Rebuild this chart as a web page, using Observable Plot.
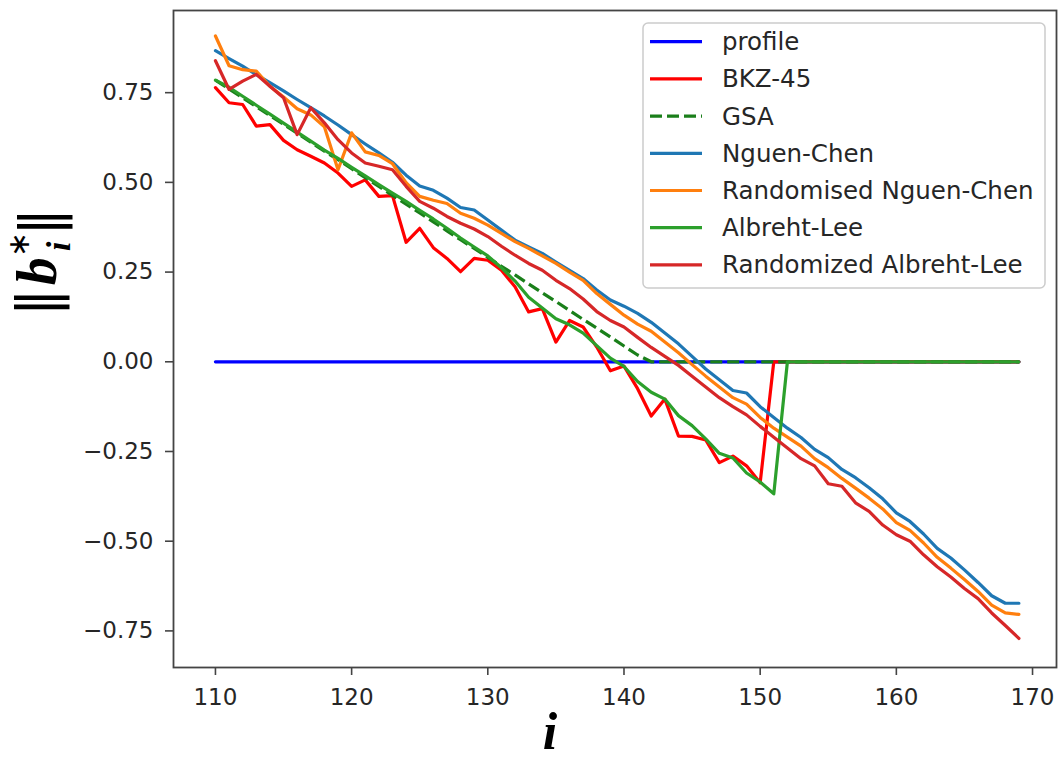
<!DOCTYPE html>
<html>
<head>
<meta charset="utf-8">
<script src="https://cdn.jsdelivr.net/npm/d3@7"></script>
<script src="https://cdn.jsdelivr.net/npm/@observablehq/plot@0.6"></script>
<style>
  html, body { margin: 0; padding: 0; background: #fff; }
  #chart { width: 1059px; height: 762px; }
</style>
</head>
<body>
<div id="chart"></div>
<script>
// ---- data ----
const indices = d3.range(110, 170); // i = 110 ... 169

const seriesNames = ["profile", "BKZ-45", "GSA", "Nguen-Chen", "Randomised Nguen-Chen", "Albreht-Lee", "Randomized Albreht-Lee"];

const profile = [
  0,0,0,0,0,0,0,0,0,0, 0,0,0,0,0,0,0,0,0,0,
  0,0,0,0,0,0,0,0,0,0, 0,0,0,0,0,0,0,0,0,0,
  0,0,0,0,0,0,0,0,0,0, 0,0,0,0,0,0,0,0,0,0
];

const bkz45 = [
  0.764,0.722,0.717,0.657,0.661,0.617,0.591,0.573,0.554,0.526,
  0.489,0.507,0.461,0.463,0.333,0.372,0.318,0.288,0.251,0.288,
  0.283,0.255,0.209,0.139,0.148,0.055,0.115,0.097,0.041,-0.025,
  -0.012,-0.075,-0.151,-0.104,-0.207,-0.208,-0.218,-0.281,-0.263,-0.290,
  -0.337,0,0,0,0,0,0,0,0,0,
  0,0,0,0,0,0,0,0,0,0
];

const gsa = [
  0.785,0.760,0.736,0.711,0.686,0.662,0.637,0.612,0.587,0.563,
  0.538,0.513,0.489,0.464,0.439,0.415,0.390,0.365,0.340,0.316,
  0.291,0.266,0.242,0.217,0.192,0.168,0.143,0.118,0.094,0.069,
  0.044,0.019,0,0,0,0,0,0,0,0,
  0,0,0,0,0,0,0,0,0,0,
  0,0,0,0,0,0,0,0,0,0
];

const nguenChen = [
  0.867,0.845,0.824,0.800,0.778,0.755,0.731,0.708,0.685,0.660,
  0.633,0.607,0.582,0.556,0.520,0.490,0.478,0.456,0.430,0.423,
  0.395,0.367,0.339,0.320,0.302,0.278,0.255,0.232,0.200,0.172,
  0.155,0.135,0.110,0.080,0.050,0.015,-0.020,-0.050,-0.080,-0.087,
  -0.125,-0.155,-0.185,-0.211,-0.244,-0.267,-0.300,-0.323,-0.351,-0.382,
  -0.421,-0.445,-0.480,-0.520,-0.547,-0.580,-0.615,-0.652,-0.673,-0.673
];

const randNguenChen = [
  0.908,0.825,0.814,0.810,0.768,0.738,0.705,0.688,0.655,0.535,
  0.638,0.585,0.575,0.552,0.499,0.461,0.450,0.441,0.414,0.400,
  0.381,0.358,0.335,0.316,0.295,0.274,0.250,0.227,0.190,0.160,
  0.130,0.105,0.085,0.055,0.025,-0.008,-0.040,-0.070,-0.100,-0.118,
  -0.155,-0.185,-0.210,-0.235,-0.270,-0.295,-0.325,-0.352,-0.380,-0.410,
  -0.448,-0.470,-0.505,-0.545,-0.575,-0.607,-0.640,-0.678,-0.700,-0.704
];

const albrehtLee = [
  0.785,0.765,0.740,0.715,0.690,0.665,0.640,0.615,0.590,0.567,
  0.542,0.518,0.494,0.470,0.447,0.422,0.398,0.372,0.345,0.320,
  0.295,0.262,0.225,0.180,0.150,0.120,0.103,0.080,0.045,0.010,
  -0.013,-0.055,-0.085,-0.104,-0.150,-0.178,-0.215,-0.255,-0.268,-0.310,
  -0.335,-0.368,0,0,0,0,0,0,0,0,
  0,0,0,0,0,0,0,0,0,0
];

const randAlbrehtLee = [
  0.839,0.759,0.782,0.801,0.768,0.736,0.633,0.708,0.666,0.619,
  0.582,0.554,0.545,0.535,0.489,0.447,0.428,0.405,0.386,0.370,
  0.349,0.322,0.297,0.274,0.255,0.227,0.204,0.175,0.140,0.115,
  0.097,0.068,0.040,0.015,-0.010,-0.040,-0.070,-0.100,-0.125,-0.148,
  -0.180,-0.210,-0.240,-0.270,-0.290,-0.340,-0.347,-0.393,-0.417,-0.455,
  -0.482,-0.500,-0.538,-0.571,-0.600,-0.632,-0.660,-0.700,-0.735,-0.771
];

const xTicks = [110, 120, 130, 140, 150, 160, 170];
const yTicks = [-0.75, -0.50, -0.25, 0.00, 0.25, 0.50, 0.75];

// ---- styles ----
const styles = [
  {color: "#0000ff", dash: null},
  {color: "#ff0000", dash: null},
  {color: "#1a7f1a", dash: "12,5"},
  {color: "#1f77b4", dash: null},
  {color: "#ff7f0e", dash: null},
  {color: "#2ca02c", dash: null},
  {color: "#d62728", dash: null}
];
const valueLists = [profile, bkz45, gsa, nguenChen, randNguenChen, albrehtLee, randAlbrehtLee];

const tables = valueLists.map((vals, k) => indices.map((i, j) => ({i, v: vals[j], s: seriesNames[k]})));

const W = 1059, H = 762;
const ML = 173, MR = 3, MT = 10, MB = 95;

const chart = Plot.plot({
  width: W,
  height: H,
  marginLeft: ML,
  marginRight: MR,
  marginTop: MT,
  marginBottom: MB,
  style: {fontFamily: "DejaVu Sans", fontSize: "23px", color: "#262626", background: "#fff"},
  x: {domain: [106.92, 171.76]},
  y: {domain: [-0.852, 0.979]},
  marks: [
    Plot.axisX({ticks: xTicks, tickSize: 8, tickPadding: 13, tickFormat: d3.format("d"), label: null, stroke: "#444", strokeWidth: 1.6}),
    Plot.axisY({ticks: yTicks, tickSize: 8, tickPadding: 12, tickFormat: d3.format(".2f"), label: null, stroke: "#444", strokeWidth: 1.6}),
    ...tables.map((t, k) => Plot.line(t, {
      x: "i", y: "v",
      stroke: styles[k].color,
      strokeWidth: 3.2,
      strokeDasharray: styles[k].dash,
      strokeLinejoin: "round",
      strokeLinecap: styles[k].dash ? "butt" : "round"
    })),
    Plot.frame({stroke: "#444", strokeWidth: 1.8})
  ]
});

document.getElementById("chart").appendChild(chart);

// ---- legend and axis labels inside the SVG ----
const svg = d3.select(chart);

const lg = svg.append("g").attr("class", "legend").attr("text-anchor", "start");
const LX = 643, LY = 23, LW = 402, LH = 265, row0 = 41.7, rowStep = 37.2;
lg.append("rect")
  .attr("x", LX).attr("y", LY).attr("width", LW).attr("height", LH)
  .attr("rx", 5).attr("ry", 5)
  .style("fill", "rgba(255,255,255,0.8)")
  .style("stroke", "#cccccc").style("stroke-width", "1.5px");
seriesNames.forEach((name, k) => {
  const y = row0 + k * rowStep;
  lg.append("line")
    .attr("x1", 650).attr("x2", 702).attr("y1", y).attr("y2", y)
    .style("stroke", styles[k].color).style("stroke-width", "3.2px")
    .style("stroke-dasharray", styles[k].dash ? "12,5" : null);
  lg.append("text")
    .attr("x", 722).attr("y", y).attr("dy", "0.35em")
    .attr("text-anchor", "start")
    .attr("font-family", "DejaVu Sans").attr("font-size", 24.5)
    .attr("fill", "#262626")
    .text(name);
});

// x label
svg.append("text")
  .attr("x", 550).attr("y", 749)
  .attr("text-anchor", "middle")
  .attr("font-family", "Liberation Serif, DejaVu Serif, serif")
  .attr("font-weight", "bold").attr("font-style", "italic")
  .attr("font-size", 52)
  .attr("fill", "#000")
  .text("i");

// y label  ||b*_i||
const yl = svg.append("text")
  .attr("transform", "translate(56,262) rotate(-90)")
  .attr("text-anchor", "middle")
  .attr("font-family", "Liberation Serif, DejaVu Serif, serif")
  .attr("font-size", 56)
  .attr("fill", "#000");
yl.append("tspan").attr("font-family", "DejaVu Sans").text("‖");
yl.append("tspan").attr("font-weight", "bold").attr("font-style", "italic").attr("dx", "0.05em").text("b");
yl.append("tspan").attr("font-size", 30).attr("dy", "-0.9em").attr("font-family", "DejaVu Sans").text("∗");
yl.append("tspan").attr("font-size", 34).attr("font-weight", "bold").attr("font-style", "italic").attr("dx", "-0.55em").attr("dy", "1.2em").text("i");
yl.append("tspan").attr("font-family", "DejaVu Sans").attr("dy", "-0.2em").attr("dx", "0.1em").text("‖");
</script>
</body>
</html>
